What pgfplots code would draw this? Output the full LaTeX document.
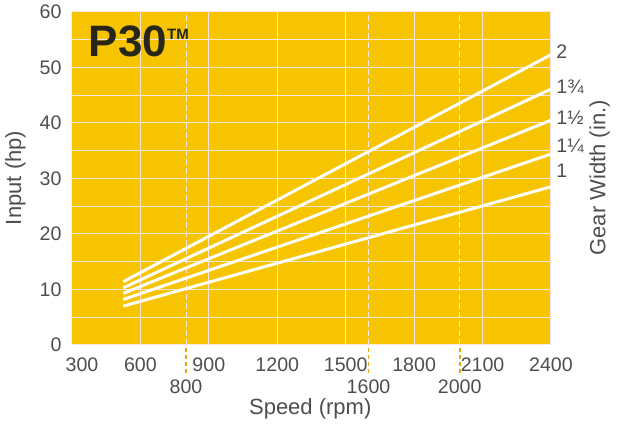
\documentclass[border=0pt]{standalone}
\usepackage{fontspec}
\setmainfont{Liberation Sans}
\usepackage{pgfplots}
\pgfplotsset{compat=1.18}
\definecolor{bg}{RGB}{246,196,0}
\definecolor{gridc}{RGB}{252,232,222}
\definecolor{txt}{RGB}{78,78,78}
\definecolor{dashy}{RGB}{228,168,20}
\definecolor{titlec}{RGB}{40,38,25}
\begin{document}
\begin{tikzpicture}
\begin{axis}[
 scale only axis, width=239.5pt, height=166.5pt,
 xmin=300, xmax=2400, ymin=0, ymax=60,
 axis line style={draw=none},
 axis background/.style={fill=bg},
 xtick={300,600,...,2400},
 xticklabels={\hspace{10pt}300,600,900,1200,1500\hspace{8pt},1800,2100,2400},
 ytick={0,10,...,60},
 minor y tick num=1,
 major tick length=0pt, minor tick length=0pt,
 grid=both,
 major grid style={draw=gridc, line width=0.5pt},
 minor grid style={draw=gridc, line width=0.5pt},
 extra x ticks={800,1600,2000},
 extra x tick labels={800,1600,2000},
 extra x tick style={
   major grid style={draw=gridc, dash pattern=on 3pt off 1.5pt, line width=0.5pt},
   xticklabel style={yshift=3pt},
   major tick length=14pt, tick align=outside,
   tick style={draw=dashy, dash pattern=on 2pt off 1.5pt, line width=0.8pt}},
 xtick pos=bottom, ytick pos=left,
 tick label style={font=\fontsize{9.8}{11}\selectfont, text=txt},
 xticklabel style={yshift=-2.7pt},
 yticklabel style={xshift=-1.7pt},
 /pgf/number format/assume math mode=true,
 clip=false,
]
\addplot[white, line width=1.5pt] coordinates {(525,11.4) (2400,52.3)};
\addplot[white, line width=1.5pt] coordinates {(525,10.3) (2400,46.1)};
\addplot[white, line width=1.5pt] coordinates {(525,9.3) (2400,40.5)};
\addplot[white, line width=1.5pt] coordinates {(525,8.2) (2400,34.4)};
\addplot[white, line width=1.5pt] coordinates {(525,7.0) (2400,28.5)};

\node[anchor=base west, inner sep=0, font=\bfseries\fontsize{22}{24}\selectfont, text=titlec] at (axis cs:372,51.9) {P30\raisebox{8.8pt}{\fontsize{7.5}{8}\selectfont TM}};

\begin{scope}[every node/.style={anchor=base west, inner sep=0, font=\fontsize{9.8}{11}\selectfont, text=txt}]
\node at (axis cs:2422,51.7) {2};
\node at (axis cs:2422,45.4) {1¾};
\node at (axis cs:2422,39.8) {1½};
\node at (axis cs:2422,34.6) {1¼};
\node at (axis cs:2422,30.1) {1};
\end{scope}

\node[rotate=90, font=\fontsize{11}{13}\selectfont, text=txt] at (axis cs:2614,30.1) {Gear Width (in.)};
\node[rotate=90, font=\fontsize{11}{13}\selectfont, text=txt] at (axis cs:52.5,30.1) {Input (hp)};
\node[font=\fontsize{11}{13}\selectfont, text=txt] at (axis cs:1344.5,-11.5) {Speed (rpm)};

\coordinate (bbsw) at (rel axis cs:-0.1503,-0.2402);
\coordinate (bbne) at (rel axis cs:1.1441,1.0360);
\end{axis}
\pgfresetboundingbox
\path[use as bounding box] (bbsw) rectangle (bbne);
\end{tikzpicture}
\end{document}
